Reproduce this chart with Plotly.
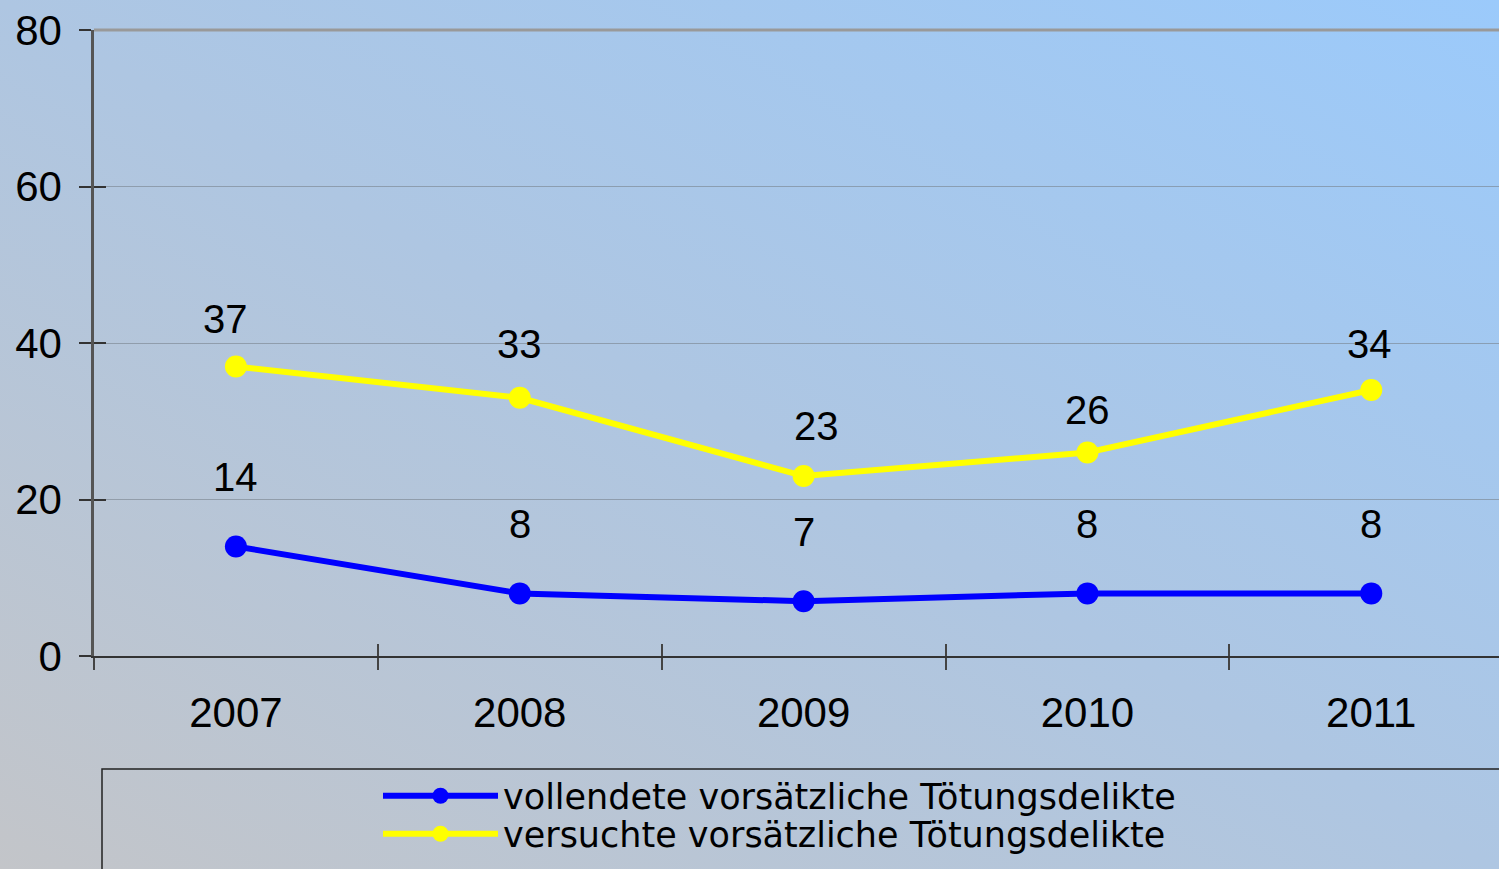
import base64
import plotly.graph_objects as go

years = ["2007", "2008", "2009", "2010", "2011"]
vollendete = [14, 8, 7, 8, 8]
versuchte = [37, 33, 23, 26, 34]
name_vollendete = "vollendete vorsätzliche Tötungsdelikte"
name_versuchte = "versuchte vorsätzliche Tötungsdelikte"
y_ticks = [0, 20, 40, 60, 80]

W, H = 1499, 869
ML, MR, MT, MB = 94, 0, 30, 213
PW, PH = W - ML - MR, H - MT - MB


def py(pix):
    """pixel row -> paper y"""
    return (H - MB - pix) / PH


def px(pix):
    return (pix - ML) / PW


svg = (
    '<svg xmlns="http://www.w3.org/2000/svg" width="100" height="100" preserveAspectRatio="none">'
    '<defs><linearGradient id="g" x1="0" y1="1" x2="1" y2="0">'
    '<stop offset="0" stop-color="#C3C5C9"/>'
    '<stop offset="0.5" stop-color="#AEC6E2"/>'
    '<stop offset="1" stop-color="#9BCAFB"/>'
    '</linearGradient></defs><rect width="100" height="100" fill="url(#g)"/></svg>'
)
bg_uri = "data:image/svg+xml;base64," + base64.b64encode(svg.encode()).decode()

fig = go.Figure()
fig.add_trace(go.Scatter(
    x=years, y=vollendete, name=name_vollendete, mode="lines+markers",
    line=dict(color="#0000FF", width=6), marker=dict(color="#0000FF", size=22),
    hoverinfo="skip", legend="legend",
))
fig.add_trace(go.Scatter(
    x=years, y=versuchte, name=name_versuchte, mode="lines+markers",
    line=dict(color="#FFFF00", width=6), marker=dict(color="#FFFF00", size=22),
    hoverinfo="skip", legend="legend2",
))
# invisible trace to carry the overlay axes (ticks crossing the axis lines)
fig.add_trace(go.Scatter(
    x=years, y=vollendete, xaxis="x2", yaxis="y2", mode="markers",
    marker=dict(opacity=0), showlegend=False, hoverinfo="skip",
))

label_font = dict(family="Liberation Sans, Arial, sans-serif", size=40, color="black")
yel_shift = [47, 54, 50, 43, 46]
yel_xshift = [-10, 0, 13, 0, -2]
for i, yr in enumerate(years):
    fig.add_annotation(xref="x", yref="y", x=i, y=vollendete[i], text=str(vollendete[i]),
                       showarrow=False, yshift=69, font=label_font)
    fig.add_annotation(xref="x", yref="y", x=i, y=versuchte[i], text=str(versuchte[i]),
                       showarrow=False, yshift=yel_shift[i], xshift=yel_xshift[i],
                       font=label_font)

tick_font = dict(family="Liberation Sans, Arial, sans-serif", size=42, color="black")
leg_font = dict(family="DejaVu Sans, sans-serif", size=35, color="black")
xr = [-0.5, 4.45]
fig.update_layout(
    width=W, height=H,
    margin=dict(l=ML, r=MR, t=MT, b=MB, pad=0, autoexpand=False),
    paper_bgcolor="#B4C6DE",
    plot_bgcolor="rgba(0,0,0,0)",
    images=[dict(source=bg_uri, xref="paper", yref="paper",
                 x=-ML / PW, y=1 + MT / PH, sizex=W / PW, sizey=H / PH,
                 xanchor="left", yanchor="top", sizing="stretch", layer="below")],
    xaxis=dict(type="category", categoryorder="array", categoryarray=years,
               range=xr, tickson="boundaries", ticks="outside", ticklen=12,
               tickwidth=1.5, tickcolor="#444", showline=True, linecolor="#333",
               linewidth=2, showgrid=False, zeroline=False, tickfont=tick_font,
               ticklabelstandoff=19),
    yaxis=dict(range=[0, 80], tickvals=y_ticks, ticks="outside", ticklen=12,
               tickwidth=1.5, tickcolor="#333", showline=True, linecolor="#555",
               linewidth=2.5, showgrid=True, gridcolor="rgba(120,130,140,0.6)",
               gridwidth=1, zeroline=False, tickfont=tick_font,
               ticklabelstandoff=9),
    xaxis2=dict(type="category", categoryorder="array", categoryarray=years,
                range=xr, overlaying="x", anchor="y", side="bottom",
                tickson="boundaries", ticks="inside", ticklen=12, tickwidth=1.5,
                tickcolor="#444", showticklabels=False, showgrid=False,
                showline=False, zeroline=False),
    yaxis2=dict(range=[0, 80], tickvals=y_ticks, overlaying="y", anchor="x",
                side="left", ticks="inside", ticklen=12, tickwidth=1.5,
                tickcolor="#333", showticklabels=False, showgrid=False,
                showline=False, zeroline=False),
    legend=dict(x=px(378), y=py(796), xanchor="left", yanchor="middle",
                bgcolor="rgba(0,0,0,0)", borderwidth=0, font=leg_font,
                itemwidth=115),
    legend2=dict(x=px(378), y=py(834), xanchor="left", yanchor="middle",
                 bgcolor="rgba(0,0,0,0)", borderwidth=0, font=leg_font,
                 itemwidth=115),
    shapes=[
        dict(type="line", xref="paper", yref="paper", x0=0, x1=1, y0=1, y1=1,
             line=dict(color="#999999", width=3), layer="above"),
        dict(type="rect", xref="paper", yref="paper",
             x0=px(102), x1=1.2, y0=py(769), y1=-0.6,
             line=dict(color="#222222", width=1.5), fillcolor="rgba(0,0,0,0)"),
    ],
    showlegend=True,
)

fig.write_html("out.html", config={"displayModeBar": False},
               post_script="document.body.style.margin='0px';")
